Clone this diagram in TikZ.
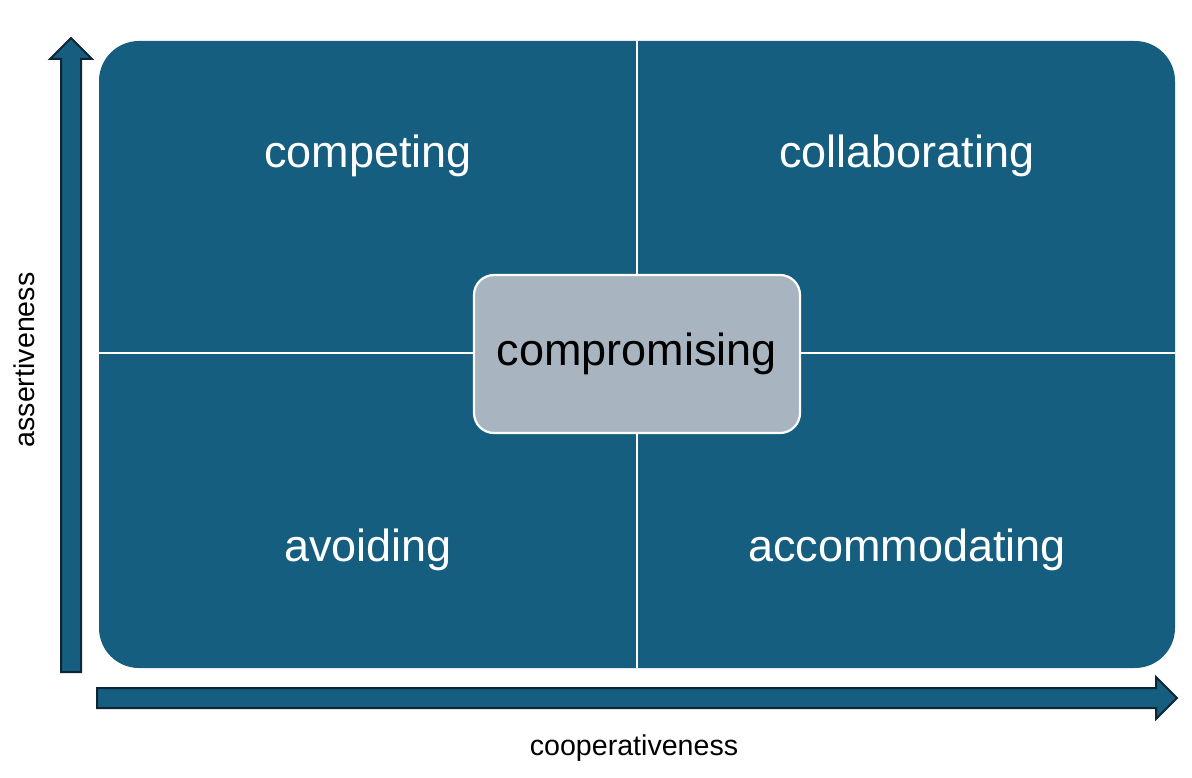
\documentclass[tikz,border=0pt]{standalone}
\usepackage{fontspec}
\setmainfont{Liberation Sans}
\definecolor{mainblue}{RGB}{22,94,128}
\definecolor{centergray}{RGB}{169,180,193}
\definecolor{arrowedge}{RGB}{14,38,52}
\tikzset{
  quadlabel/.style={text=white, font=\fontsize{45}{50}\selectfont, inner sep=0pt},
  axislabel/.style={text=black, font=\fontsize{28.6}{32}\selectfont, inner sep=0pt},
  axisarrow/.style={fill=mainblue, draw=arrowedge, line width=2pt, line join=miter},
  divider/.style={draw=white, line width=2.2pt},
}
\begin{document}
\begin{tikzpicture}[x=1pt,y=-1pt]
\useasboundingbox (0,0) rectangle (1192,778);
% main board
\fill[mainblue, rounded corners=40pt] (99,41) rectangle (1175,668);
% dividers
\coordinate (vt) at (637,41);
\coordinate (vb) at (637,668);
\coordinate (hl) at (99,353);
\coordinate (hr) at (1175,353);
\draw[divider] (vt) -- (vb);
\draw[divider] (hl) -- (hr);
% center box
\node[draw=white, line width=2.2pt, fill=centergray, rounded corners=20pt,
  minimum width=326pt, minimum height=158pt, inner sep=0pt,
  font=\fontsize{45}{50}\selectfont, text=black] (comp) at (637,354) {compromising};
% quadrant labels
\node[quadlabel] (q1) at (368,156) {competing};
\node[quadlabel] (q2) at (907,156) {collaborating};
\node[quadlabel] (q3) at (368,550) {avoiding};
\node[quadlabel] (q4) at (907,550) {accommodating};
% vertical arrow
\draw[axisarrow] (61,672) -- (61,59) -- (50,59) -- (71,38) -- (92,59) -- (81,59) -- (81,672) -- cycle;
% horizontal arrow
\draw[axisarrow] (97,688) -- (1156,688) -- (1156,677) -- (1177,698) -- (1156,719) -- (1156,708) -- (97,708) -- cycle;
% axis labels
\node[axislabel, rotate=90] (ya) at (24,360) {assertiveness};
\node[axislabel] (xa) at (634,748) {cooperativeness};
\end{tikzpicture}
\end{document}
